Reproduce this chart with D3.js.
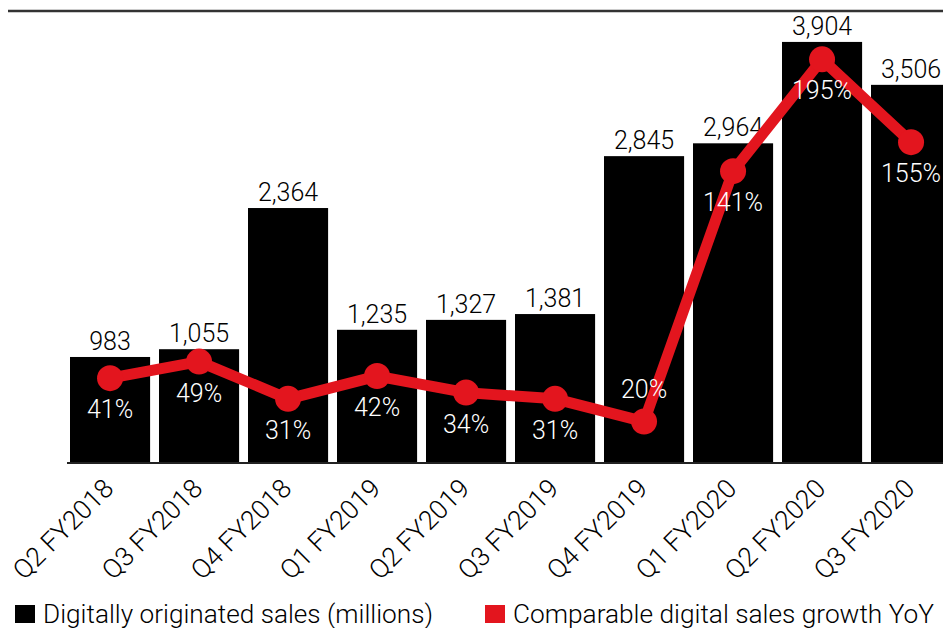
<!DOCTYPE html>
<html>
<head>
<meta charset="utf-8">
<script src="https://cdn.jsdelivr.net/npm/d3@7"></script>
<style>
  html, body { margin: 0; padding: 0; background: #fff; }
  svg { display: block; font-family: Roboto, "Liberation Sans", Arial, sans-serif; font-weight: 300; }
</style>
</head>
<body>
<svg id="chart" width="943" height="628"></svg>
<script>
// Quarterly digital sales and year-over-year growth
const quarters = ["Q2 FY2018", "Q3 FY2018", "Q4 FY2018", "Q1 FY2019", "Q2 FY2019",
                  "Q3 FY2019", "Q4 FY2019", "Q1 FY2020", "Q2 FY2020", "Q3 FY2020"];
const digitalSales = [983, 1055, 2364, 1235, 1327, 1381, 2845, 2964, 3904, 3506]; // millions
const digitalGrowth = [41, 49, 31, 42, 34, 31, 20, 141, 195, 155];              // % YoY
const legendLabels = ["Digitally originated sales (millions)", "Comparable digital sales growth YoY"];

const RED = "#e3151e";
const FONT = "Roboto, 'Liberation Sans', Arial, sans-serif";
const svg = d3.select("#chart");
const W = 943, H = 628;

const x = d3.scaleBand()
  .domain(quarters)
  .range([61.1, 960])
  .paddingInner(0.1)
  .paddingOuter(0.1);

const ySales = d3.scaleLinear().domain([0, 4200]).range([463, 10]);
const yGrowth = d3.scaleLinear().domain([0, 200]).range([463, 49]);

// top rule
svg.append("line")
  .attr("x1", 8).attr("x2", W)
  .attr("y1", 11).attr("y2", 11)
  .attr("stroke", "#333").attr("stroke-width", 2.5);

// bars
svg.append("g").selectAll("rect")
  .data(quarters)
  .join("rect")
  .attr("x", d => x(d))
  .attr("y", (d, i) => ySales(digitalSales[i]))
  .attr("width", x.bandwidth())
  .attr("height", (d, i) => ySales(0) - ySales(digitalSales[i]))
  .attr("fill", "#000");

// bar value labels
const fmt = d3.format(",");
svg.append("g").selectAll("text")
  .data(quarters)
  .join("text")
  .attr("x", d => x(d) + x.bandwidth() / 2)
  .attr("y", (d, i) => ySales(digitalSales[i]) - 7)
  .attr("text-anchor", "middle")
  .attr("font-size", 25)
  .attr("fill", "#000")
  .text((d, i) => fmt(digitalSales[i]));

// x axis baseline and rotated labels
const xAxis = d3.axisBottom(x).tickSize(0).tickPadding(0);
const axisG = svg.append("g")
  .attr("transform", `translate(0,${ySales(0)})`)
  .call(xAxis);
axisG.select(".domain").remove();
axisG.append("line")
  .attr("x1", 67).attr("x2", W)
  .attr("y1", 0).attr("y2", 0)
  .attr("stroke", "#222").attr("stroke-width", 2);
axisG.selectAll(".tick text")
  .attr("font-family", FONT)
  .attr("font-weight", 300)
  .attr("font-size", 26.5)
  .attr("fill", "#000")
  .attr("text-anchor", "end")
  .attr("dy", 0)
  .attr("transform", "translate(5,27) rotate(-45)");

// growth line
const line = d3.line()
  .x((d, i) => x(quarters[i]) + x.bandwidth() / 2)
  .y(d => yGrowth(d));

svg.append("path")
  .datum(digitalGrowth)
  .attr("d", line)
  .attr("fill", "none")
  .attr("stroke", RED)
  .attr("stroke-width", 11)
  .attr("stroke-linejoin", "round");

svg.append("g").selectAll("circle")
  .data(digitalGrowth)
  .join("circle")
  .attr("cx", (d, i) => x(quarters[i]) + x.bandwidth() / 2)
  .attr("cy", d => yGrowth(d))
  .attr("r", 13)
  .attr("fill", RED);

// growth labels: below the marker, except where the line climbs away above it
const labelAbove = new Set(["Q4 FY2019"]);
svg.append("g").selectAll("text")
  .data(digitalGrowth)
  .join("text")
  .attr("x", (d, i) => x(quarters[i]) + x.bandwidth() / 2)
  .attr("y", (d, i) => yGrowth(d) + (labelAbove.has(quarters[i]) ? -24 : 40))
  .attr("text-anchor", "middle")
  .attr("font-size", 25)
  .attr("fill", "#fff")
  .text(d => d + "%");

// legend
const legend = svg.append("g");
const legendItems = [
  { label: legendLabels[0], color: "#000", x: 15, len: 390 },
  { label: legendLabels[1], color: RED, x: 485, len: 421 }
];
legendItems.forEach(it => {
  legend.append("rect")
    .attr("x", it.x).attr("y", 605)
    .attr("width", 20).attr("height", 18)
    .attr("fill", it.color);
  legend.append("text")
    .attr("x", it.x + 28).attr("y", 623)
    .attr("font-size", 26)
    .attr("textLength", it.len)
    .attr("lengthAdjust", "spacingAndGlyphs")
    .attr("fill", "#000")
    .text(it.label);
});
</script>
</body>
</html>
